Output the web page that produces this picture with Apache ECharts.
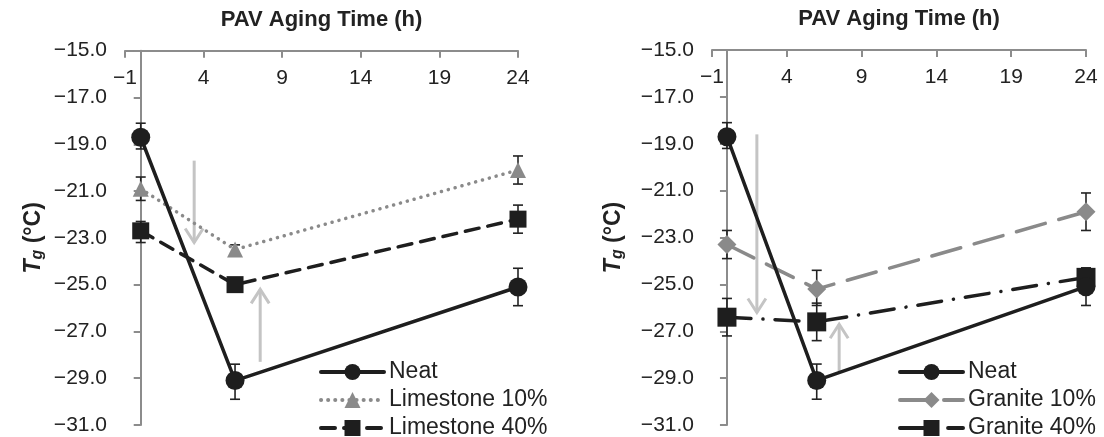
<!DOCTYPE html>
<html>
<head>
<meta charset="utf-8">
<script src="https://cdn.jsdelivr.net/npm/echarts@6/dist/echarts.min.js"></script>
<style>
  html, body { margin: 0; padding: 0; background: #fff; }
  #chart { width: 1104px; height: 437px; }
</style>
</head>
<body>
<div id="chart"></div>
<script>
// PAV aging time (h)
var hours = [0, 6, 24];

// T_g values (°C)
var neat = [-18.7, -29.1, -25.1];
var neatLow = [-19.2, -29.9, -25.9];
var neatHigh = [-18.1, -28.4, -24.3];

var lime10 = [-20.9, -23.5, -20.1];
var lime10Low = [-21.4, -23.7, -20.7];
var lime10High = [-20.4, -23.3, -19.5];

var lime40 = [-22.7, -25.0, -22.2];
var lime40Low = [-23.2, -25.2, -22.8];
var lime40High = [-22.3, -24.8, -21.6];

var gran10 = [-23.3, -25.2, -21.9];
var gran10Low = [-23.9, -25.9, -22.7];
var gran10High = [-22.7, -24.4, -21.1];

var gran40 = [-26.4, -26.6, -24.7];
var gran40Low = [-27.2, -27.4, -25.1];
var gran40High = [-25.6, -25.8, -24.3];

// arrows: [x, from, to]
var arrowsLeft = [[3.4, -19.7, -23.2], [7.6, -28.3, -25.2]];
var arrowsRight = [[2.0, -18.6, -26.2], [7.5, -28.7, -26.7]];

var yTicks = ['−15.0', '−17.0', '−19.0', '−21.0', '−23.0', '−25.0', '−27.0', '−29.0', '−31.0'];

var font = 'Liberation Sans, Arial, sans-serif';

function pts(vals) {
	return hours.map(function (h, i) { return [h, vals[i]]; });
}
function bars(lo, hi) {
	return hours.map(function (h, i) { return [h, lo[i], hi[i]]; });
}

function errorSeries(idx, lo, hi) {
	return {
		type: 'custom',
		xAxisIndex: idx, yAxisIndex: idx,
		z: 1,
		silent: true,
		encode: { x: 0, y: [1, 2] },
		data: bars(lo, hi),
		renderItem: function (params, api) {
			var top = api.coord([api.value(0), api.value(2)]);
			var bot = api.coord([api.value(0), api.value(1)]);
			var w = 5;
			var st = { stroke: '#222', lineWidth: 1.6 };
			return {
				type: 'group',
				children: [
					{ type: 'line', shape: { x1: top[0], y1: top[1], x2: bot[0], y2: bot[1] }, style: st },
					{ type: 'line', shape: { x1: top[0] - w, y1: top[1], x2: top[0] + w, y2: top[1] }, style: st },
					{ type: 'line', shape: { x1: bot[0] - w, y1: bot[1], x2: bot[0] + w, y2: bot[1] }, style: st }
				]
			};
		}
	};
}

function arrowSeries(idx, arr) {
	return {
		type: 'custom',
		xAxisIndex: idx, yAxisIndex: idx,
		z: 0,
		silent: true,
		encode: { x: 0, y: [1, 2] },
		data: arr,
		renderItem: function (params, api) {
			var a = api.coord([api.value(0), api.value(1)]);
			var b = api.coord([api.value(0), api.value(2)]);
			var dir = b[1] > a[1] ? -1 : 1;
			var st = { stroke: '#c4c4c4', lineWidth: 3, fill: null };
			return {
				type: 'group',
				children: [
					{ type: 'line', shape: { x1: a[0], y1: a[1], x2: b[0], y2: b[1] }, style: st },
					{ type: 'polyline', shape: { points: [[b[0] - 9, b[1] + dir * 14], [b[0], b[1]], [b[0] + 9, b[1] + dir * 14]] }, style: st }
				]
			};
		}
	};
}

function lineSeries(idx, name, vals, color, symbol, size, type) {
	return {
		name: name,
		type: 'line',
		xAxisIndex: idx, yAxisIndex: idx,
		z: 3,
		data: pts(vals),
		symbol: symbol,
		symbolSize: size,
		itemStyle: { color: color },
		lineStyle: { color: color, width: 3.5, type: type, cap: 'round' }
	};
}

function xAxis(idx) {
	return {
		gridIndex: idx,
		type: 'value',
		position: 'top',
		min: -1, max: 24, interval: 5,
		name: 'PAV Aging Time (h)',
		nameLocation: 'middle',
		nameGap: 20,
		nameTextStyle: { fontFamily: font, fontSize: 22, fontWeight: 'bold', color: '#222' },
		axisLine: { lineStyle: { color: '#8c8c8c', width: 2 } },
		axisTick: { inside: true, length: 7, lineStyle: { color: '#8c8c8c', width: 2 } },
		axisLabel: {
			inside: true, margin: 17, fontFamily: font, fontSize: 21, color: '#222',
			formatter: function (v) { return v < 0 ? '−' + Math.abs(v) : String(v); }
		},
		splitLine: { show: false }
	};
}

function yAxis(idx, gap) {
	return {
		gridIndex: idx,
		type: 'value',
		min: -31, max: -15, interval: 2,
		name: '{t|T}{g|g}{u|\u00a0(°C)}',
		nameLocation: 'middle',
		nameGap: gap,
		nameRotate: 90,
		nameTextStyle: {
			rich: {
				t: { fontFamily: font, fontSize: 23, fontWeight: 'bold', fontStyle: 'italic', color: '#222' },
				g: { fontFamily: font, fontSize: 16, fontWeight: 'bold', fontStyle: 'italic', color: '#222', verticalAlign: 'bottom', padding: [9, 0, 0, 0] },
				u: { fontFamily: font, fontSize: 23, fontWeight: 'bold', color: '#222' }
			}
		},
		axisLine: { show: true, lineStyle: { color: '#8c8c8c', width: 2 } },
		axisTick: { show: true, length: 7, lineStyle: { color: '#8c8c8c', width: 2 } },
		axisLabel: {
			margin: 18, fontFamily: font, fontSize: 21, color: '#222',
			formatter: function (v) { return yTicks[Math.round((-15 - v) / 2)]; }
		},
		splitLine: { show: false }
	};
}

function legend(left, names) {
	return {
		orient: 'vertical',
		left: left,
		top: 360,
		height: 100,
		padding: 0,
		itemWidth: 63,
		itemHeight: 20,
		itemGap: 4,
		data: names,
		lineStyle: { width: 4 },
		textStyle: { fontFamily: font, fontSize: 23, lineHeight: 24, color: '#222' }
	};
}

var chart = echarts.init(document.getElementById('chart'));
chart.setOption({
	backgroundColor: '#fff',
	animation: false,
	grid: [
		{ left: 125, top: 50.7, width: 393, height: 374.3 },
		{ left: 712, top: 50, width: 374, height: 375 }
	],
	xAxis: [xAxis(0), xAxis(1)],
	yAxis: [yAxis(0, 79), yAxis(1, 86)],
	legend: [
		legend(319, ['Neat', 'Limestone 10%', 'Limestone 40%']),
		legend(898, ['Neat ', 'Granite 10%', 'Granite 40%'])
	],
	series: [
		arrowSeries(0, arrowsLeft),
		arrowSeries(1, arrowsRight),
		errorSeries(0, neatLow, neatHigh),
		errorSeries(0, lime10Low, lime10High),
		errorSeries(0, lime40Low, lime40High),
		errorSeries(1, neatLow, neatHigh),
		errorSeries(1, gran10Low, gran10High),
		errorSeries(1, gran40Low, gran40High),
		lineSeries(0, 'Limestone 10%', lime10, '#8a8a8a', 'triangle', 16, [0.1, 7]),
		lineSeries(0, 'Limestone 40%', lime40, '#1e1e1e', 'rect', 17, [14, 9]),
		lineSeries(0, 'Neat', neat, '#1e1e1e', 'circle', 19, 'solid'),
		lineSeries(1, 'Granite 10%', gran10, '#8a8a8a', 'diamond', 19, [30, 14]),
		lineSeries(1, 'Granite 40%', gran40, '#1e1e1e', 'rect', 19, [24, 12, 0.1, 12]),
		lineSeries(1, 'Neat ', neat, '#1e1e1e', 'circle', 19, 'solid')
	]
});
</script>
</body>
</html>
